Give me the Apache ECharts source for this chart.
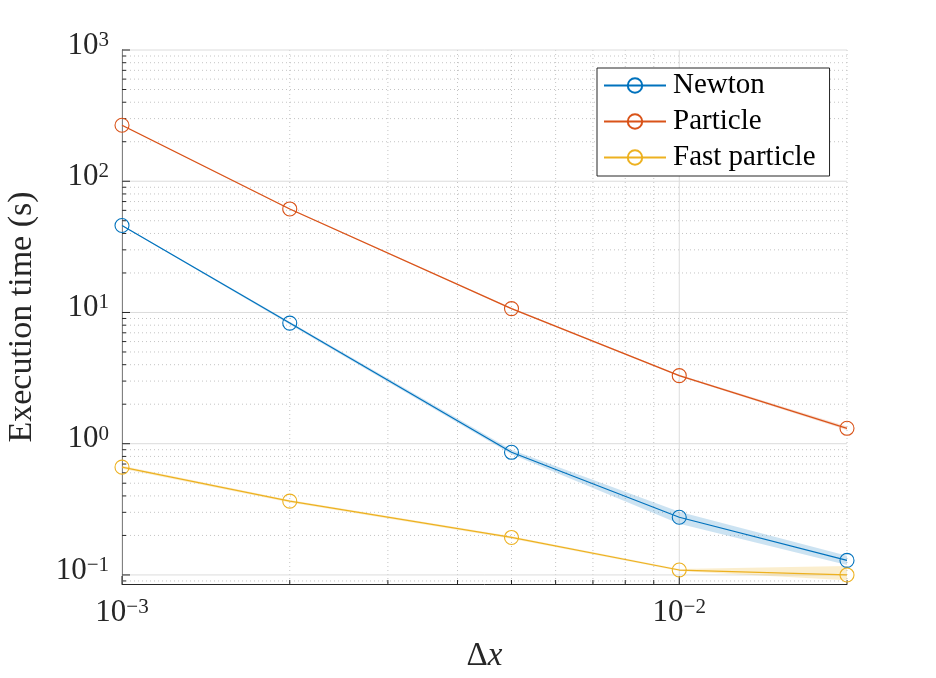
<!DOCTYPE html>
<html lang="en">
<head>
    <meta charset="UTF-8">
    <title>Execution time</title>
    <script type="text/javascript" src="https://cdn.jsdelivr.net/npm/echarts@6/dist/echarts.min.js"></script>
    <style>
        html, body { margin: 0; padding: 0; background: #fff; }
    </style>
</head>
<body>
<div id="chart" style="width: 936px;height: 678px"></div>
<script type="text/javascript">

    // grid spacing
    var dx = [0.001, 0.002, 0.005, 0.01, 0.02];

    // execution time (s), mean and band
    var newton   = [46, 8.3, 0.86, 0.275, 0.129];
    var newtonLo = [45.5, 8.1, 0.83, 0.245, 0.119];
    var newtonHi = [46.5, 8.5, 0.90, 0.303, 0.140];

    var particle   = [267, 61.5, 10.7, 3.3, 1.31];
    var particleLo = [264, 60.8, 10.55, 3.25, 1.27];
    var particleHi = [270, 62.2, 10.85, 3.35, 1.35];

    var fast   = [0.663, 0.365, 0.193, 0.109, 0.100];
    var fastLo = [0.645, 0.357, 0.189, 0.107, 0.091];
    var fastHi = [0.680, 0.373, 0.197, 0.111, 0.117];

    // axis ranges and grid lines
    var xMin = 0.001, xMax = 0.02;
    var yMin = 0.0853, yMax = 1000;
    var xMajor = [0.001, 0.01];
    var xMinor = [0.002, 0.003, 0.004, 0.005, 0.006, 0.007, 0.008, 0.009, 0.02];
    var yMajor = [0.1, 1, 10, 100, 1000];
    var yMinor = [0.09,
        0.2, 0.3, 0.4, 0.5, 0.6, 0.7, 0.8, 0.9,
        2, 3, 4, 5, 6, 7, 8, 9,
        20, 30, 40, 50, 60, 70, 80, 90,
        200, 300, 400, 500, 600, 700, 800, 900];

    var FONT = 'Liberation Serif';
    var AXIS = '#262626';
    var GRID = '#dcdcdc';
    var MINOR = '#c4c4c4';

    function pairs(xs, ys) {
        var out = [];
        for (var i = 0; i < xs.length; i++) out.push([xs[i], ys[i]]);
        return out;
    }

    function powLabel(v) {
        var l = Math.log10(v);
        var e = Math.round(l);
        if (Math.abs(l - e) > 1e-6) return '';
        return '{b|10}{s|' + (e < 0 ? '\u2212' + (-e) : e) + '}';
    }

    var labelRich = {
        b: { fontFamily: FONT, fontSize: 31, lineHeight: 31, color: AXIS, verticalAlign: 'bottom' },
        s: { fontFamily: FONT, fontSize: 21, lineHeight: 21, color: AXIS, verticalAlign: 'top', padding: [0, 0, 14, 0] }
    };

    // vertical grid lines and ticks
    function xLines(major) {
        return function (params, api) {
            var cs = params.coordSys;
            var px = api.coord([api.value(0), yMin])[0];
            var bottom = cs.y + cs.height;
            var len = major ? 8 : 4;
            return {
                type: 'group',
                children: [{
                    type: 'line',
                    shape: { x1: px, y1: cs.y, x2: px, y2: bottom },
                    style: major ? { stroke: GRID, lineWidth: 1 }
                                 : { stroke: MINOR, lineWidth: 1, lineDash: [1, 3] }
                }, {
                    type: 'line',
                    shape: { x1: px, y1: bottom, x2: px, y2: bottom - len },
                    style: { stroke: AXIS, lineWidth: 1 }
                }]
            };
        };
    }

    // horizontal grid lines and ticks
    function yLines(major) {
        return function (params, api) {
            var cs = params.coordSys;
            var py = api.coord([xMin, api.value(1)])[1];
            var len = major ? 8 : 4;
            return {
                type: 'group',
                children: [{
                    type: 'line',
                    shape: { x1: cs.x, y1: py, x2: cs.x + cs.width, y2: py },
                    style: major ? { stroke: GRID, lineWidth: 1 }
                                 : { stroke: MINOR, lineWidth: 1, lineDash: [1, 3] }
                }, {
                    type: 'line',
                    shape: { x1: cs.x, y1: py, x2: cs.x + len, y2: py },
                    style: { stroke: AXIS, lineWidth: 1 }
                }]
            };
        };
    }

    // shaded band between lo and hi
    function band(lo, hi, fill) {
        var rows = [];
        for (var i = 0; i < dx.length; i++) rows.push([dx[i], lo[i], hi[i]]);
        return {
            type: 'custom',
            silent: true,
            z: 3,
            data: rows,
            renderItem: function (params, api) {
                if (params.dataIndex !== 0) return null;
                var pts = [];
                for (var i = 0; i < rows.length; i++) pts.push(api.coord([rows[i][0], rows[i][2]]));
                for (var j = rows.length - 1; j >= 0; j--) pts.push(api.coord([rows[j][0], rows[j][1]]));
                return { type: 'polygon', shape: { points: pts }, style: { fill: fill } };
            }
        };
    }

    function lineSeries(name, ys, color) {
        return {
            name: name,
            type: 'line',
            z: 5,
            data: pairs(dx, ys),
            symbol: 'circle',
            symbolSize: 14,
            showAllSymbol: true,
            lineStyle: { color: color, width: 1.2 },
            itemStyle: { color: 'rgba(255,255,255,0)', borderColor: color, borderWidth: 1.1 },
            emphasis: { disabled: true }
        };
    }

    function gridSeries(values, fn, isX) {
        return {
            type: 'custom',
            silent: true,
            z: 1,
            data: values.map(function (v) { return isX ? [v, yMin] : [xMin, v]; }),
            renderItem: fn
        };
    }

    var myChart = echarts.init(document.getElementById('chart'), null, { renderer: 'canvas' });

    var option = {
        animation: false,
        backgroundColor: '#fff',
        grid: { left: 122, top: 50, right: 89, bottom: 94, containLabel: false, outerBoundsMode: 'none' },
        legend: {
            orient: 'vertical',
            left: 597,
            top: 68,
            padding: [3, 14, 4, 6],
            itemGap: 7,
            itemWidth: 62,
            itemHeight: 18,
            borderColor: AXIS,
            borderWidth: 1,
            backgroundColor: '#fff',
            borderRadius: 0,
            data: ['Newton', 'Particle', 'Fast particle'],
            textStyle: { fontFamily: FONT, fontSize: 29, color: '#000', padding: [0, 0, 0, 2] }
        },
        xAxis: {
            type: 'log',
            logBase: 10,
            min: xMin,
            max: xMax,
            name: '{d|\u0394}{i|x}',
            nameLocation: 'middle',
            nameGap: 56,
            nameTextStyle: {
                rich: {
                    d: { fontFamily: FONT, fontSize: 33, color: AXIS },
                    i: { fontFamily: FONT, fontSize: 33, fontStyle: 'italic', color: AXIS }
                }
            },
            axisLine: { show: true, lineStyle: { color: AXIS, width: 1 } },
            axisTick: { show: false },
            splitLine: { show: false },
            minorTick: { show: false },
            axisLabel: {
                margin: 13,
                formatter: powLabel,
                rich: labelRich,
                showMinLabel: true,
                showMaxLabel: true
            }
        },
        yAxis: {
            type: 'log',
            logBase: 10,
            min: yMin,
            max: yMax,
            name: 'Execution time (s)',
            nameLocation: 'middle',
            nameGap: 83,
            nameTextStyle: { fontFamily: FONT, fontSize: 34, color: AXIS },
            axisLine: { show: true, lineStyle: { color: AXIS, width: 1 } },
            axisTick: { show: false },
            splitLine: { show: false },
            minorTick: { show: false },
            axisLabel: {
                margin: 13,
                formatter: powLabel,
                rich: labelRich,
                padding: [0, 0, 9, 0],
                showMinLabel: true,
                showMaxLabel: true
            }
        },
        series: [
            gridSeries(xMajor, xLines(true), true),
            gridSeries(xMinor, xLines(false), true),
            gridSeries(yMajor, yLines(true), false),
            gridSeries(yMinor, yLines(false), false),
            band(newtonLo, newtonHi, 'rgba(0,114,189,0.2)'),
            band(particleLo, particleHi, 'rgba(217,83,25,0.2)'),
            band(fastLo, fastHi, 'rgba(237,177,32,0.22)'),
            lineSeries('Newton', newton, '#0072BD'),
            lineSeries('Particle', particle, '#D95319'),
            lineSeries('Fast particle', fast, '#EDB120')
        ]
    };

    myChart.setOption(option, true);
</script>
</body>
</html>
